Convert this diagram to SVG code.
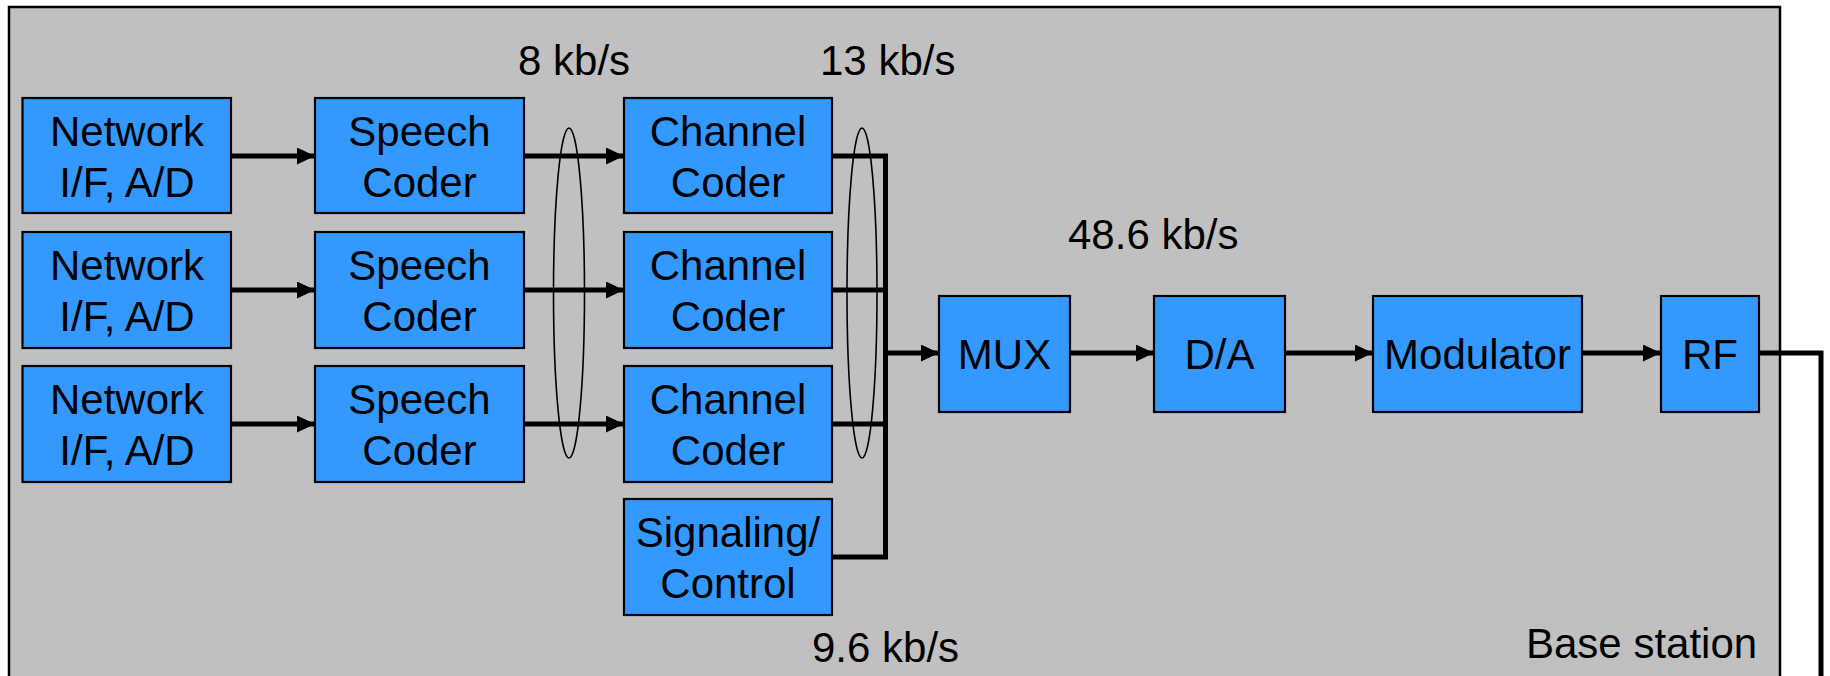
<svg xmlns="http://www.w3.org/2000/svg" width="1830" height="676" viewBox="0 0 1830 676">
<style>
.box{fill:#3399FF;stroke:#000;stroke-width:2.2}
.t{font-family:"Liberation Sans",Arial,sans-serif;font-size:42px;fill:#000}
.c{text-anchor:middle}
.ln{fill:none;stroke:#000;stroke-width:5}
.ar{fill:none;stroke:#000;stroke-width:5;marker-end:url(#ah)}
.el{fill:none;stroke:#000;stroke-width:1.6}
</style>
<defs>
<marker id="ah" markerUnits="userSpaceOnUse" markerWidth="19" markerHeight="18" refX="18" refY="8.5" orient="auto">
<path d="M0,0 L18,8.5 L0,17 Z" fill="#000"/>
</marker>
</defs>
<rect x="9" y="7" width="1771" height="680" fill="#C0C0C0" stroke="#000" stroke-width="2.5"/>
<g id="net1"><rect class="box" x="22.5" y="98" width="208.5" height="115"/><text class="t c" x="127" y="146">Network</text><text class="t c" x="127" y="197">I/F, A/D</text></g>
<g id="net2"><rect class="box" x="22.5" y="232" width="208.5" height="116"/><text class="t c" x="127" y="280">Network</text><text class="t c" x="127" y="331">I/F, A/D</text></g>
<g id="net3"><rect class="box" x="22.5" y="366" width="208.5" height="116"/><text class="t c" x="127" y="414">Network</text><text class="t c" x="127" y="465">I/F, A/D</text></g>
<g id="sc1"><rect class="box" x="315" y="98" width="209" height="115"/><text class="t c" x="419.5" y="146">Speech</text><text class="t c" x="419.5" y="197">Coder</text></g>
<g id="sc2"><rect class="box" x="315" y="232" width="209" height="116"/><text class="t c" x="419.5" y="280">Speech</text><text class="t c" x="419.5" y="331">Coder</text></g>
<g id="sc3"><rect class="box" x="315" y="366" width="209" height="116"/><text class="t c" x="419.5" y="414">Speech</text><text class="t c" x="419.5" y="465">Coder</text></g>
<g id="cc1"><rect class="box" x="624" y="98" width="208" height="115"/><text class="t c" x="728" y="146">Channel</text><text class="t c" x="728" y="197">Coder</text></g>
<g id="cc2"><rect class="box" x="624" y="232" width="208" height="116"/><text class="t c" x="728" y="280">Channel</text><text class="t c" x="728" y="331">Coder</text></g>
<g id="cc3"><rect class="box" x="624" y="366" width="208" height="116"/><text class="t c" x="728" y="414">Channel</text><text class="t c" x="728" y="465">Coder</text></g>
<g id="sig"><rect class="box" x="624" y="499" width="208" height="116"/><text class="t c" x="728" y="547">Signaling/</text><text class="t c" x="728" y="598">Control</text></g>
<g id="mux"><rect class="box" x="939" y="296" width="131" height="116"/><text class="t c" x="1004.5" y="369">MUX</text></g>
<g id="da"><rect class="box" x="1154" y="296" width="131" height="116"/><text class="t c" x="1219.5" y="369">D/A</text></g>
<g id="mod"><rect class="box" x="1373" y="296" width="209" height="116"/><text class="t c" x="1477.5" y="369">Modulator</text></g>
<g id="rf"><rect class="box" x="1661" y="296" width="98" height="116"/><text class="t c" x="1710" y="369">RF</text></g>
<g id="connectors">
<line class="ar" x1="231" y1="156" x2="315" y2="156"/>
<line class="ar" x1="231" y1="290" x2="315" y2="290"/>
<line class="ar" x1="231" y1="424" x2="315" y2="424"/>
<line class="ar" x1="524" y1="156" x2="624" y2="156"/>
<line class="ar" x1="524" y1="290" x2="624" y2="290"/>
<line class="ar" x1="524" y1="424" x2="624" y2="424"/>
<polyline class="ln" points="832,156 885.5,156 885.5,557 832,557"/>
<line class="ln" x1="832" y1="290" x2="885.5" y2="290"/>
<line class="ln" x1="832" y1="424" x2="885.5" y2="424"/>
<line class="ar" x1="885.5" y1="353" x2="939" y2="353"/>
<line class="ar" x1="1070" y1="353" x2="1154" y2="353"/>
<line class="ar" x1="1285" y1="353" x2="1373" y2="353"/>
<line class="ar" x1="1582" y1="353" x2="1661" y2="353"/>
<polyline class="ln" points="1759,353 1821,353 1821,680"/>
<ellipse class="el" cx="569" cy="293" rx="15.5" ry="165"/>
<ellipse class="el" cx="862" cy="293" rx="15" ry="165"/>
</g>
<text class="t" x="518" y="75">8 kb/s</text>
<text class="t" x="820" y="75">13 kb/s</text>
<text class="t" x="1068" y="249">48.6 kb/s</text>
<text class="t" x="812" y="662">9.6 kb/s</text>
<text class="t" x="1526" y="658">Base station</text>
</svg>
